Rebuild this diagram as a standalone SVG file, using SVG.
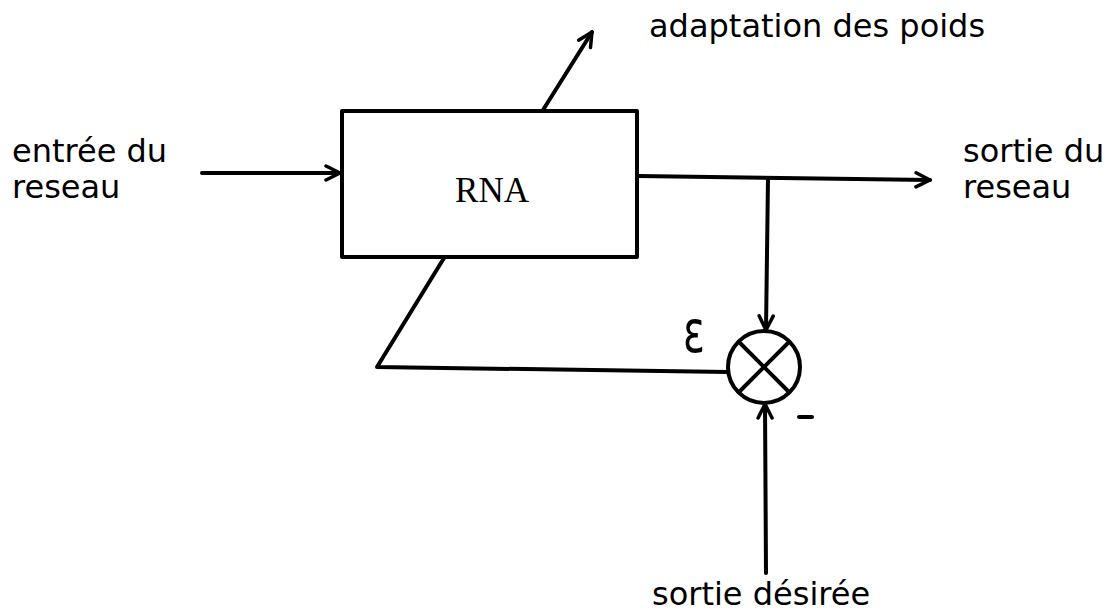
<svg xmlns="http://www.w3.org/2000/svg" width="1114" height="615" viewBox="0 0 1114 615">
<style>
.t{font-family:"DejaVu Sans","Noto Sans",sans-serif;font-size:32px;fill:#000}
.s{font-family:"Liberation Serif",serif;font-size:35px;fill:#000}
.ln{fill:none;stroke:#000;stroke-width:4;stroke-linecap:round;stroke-linejoin:round}
</style>
<defs>
<marker id="ah" viewBox="0 0 20 20" refX="18" refY="10" markerWidth="20" markerHeight="20" markerUnits="userSpaceOnUse" orient="auto">
<path d="M4,3 L18,10 L4,17" fill="none" stroke="#000" stroke-width="3.5" stroke-linecap="round" stroke-linejoin="round"/>
</marker>
</defs>
<rect width="1114" height="615" fill="#fff"/>
<g id="rna">
<rect x="342" y="111" width="295" height="146" class="ln"/>
<text x="492" y="202" class="s" text-anchor="middle">RNA</text>
</g>
<g id="sum">
<circle cx="764" cy="367" r="36" class="ln"/>
<line x1="739" y1="342" x2="789" y2="392" class="ln"/>
<line x1="789" y1="342" x2="739" y2="392" class="ln"/>
</g>
<g id="labels">
<text x="12" y="162" class="t">entrée du</text>
<text x="12" y="198" class="t">reseau</text>
<text x="963" y="162" class="t">sortie du</text>
<text x="963" y="198" class="t">reseau</text>
<text x="649" y="37" class="t">adaptation des poids</text>
<text x="652" y="605" class="t">sortie désirée</text>
<text x="0" y="0" font-family="DejaVu Sans,sans-serif" font-size="58" text-anchor="middle" transform="translate(694,352) scale(0.7,1)">ε</text>
<line x1="799" y1="417" x2="812" y2="417" class="ln"/>
</g>
<g id="connectors">
<line x1="202" y1="173" x2="340" y2="173" class="ln" marker-end="url(#ah)"/>
<line x1="543" y1="110" x2="592" y2="32" class="ln" marker-end="url(#ah)"/>
<line x1="638" y1="176" x2="930" y2="180" class="ln" marker-end="url(#ah)"/>
<line x1="768" y1="178" x2="766" y2="330" class="ln" marker-end="url(#ah)"/>
<line x1="766" y1="573" x2="765" y2="404" class="ln" marker-end="url(#ah)"/>
<polyline points="728,372 377,367 444,258" class="ln"/>
</g>
</svg>
